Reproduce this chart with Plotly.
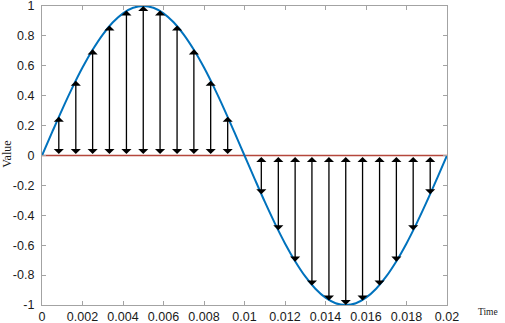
import plotly.graph_objects as go

# continuous sine curve (50 Hz, one period)
curve_t = [0, 0.0005, 0.001, 0.0015, 0.002, 0.0025, 0.003, 0.0035, 0.004, 0.0045,
           0.005, 0.0055, 0.006, 0.0065, 0.007, 0.0075, 0.008, 0.0085, 0.009, 0.0095,
           0.01, 0.0105, 0.011, 0.0115, 0.012, 0.0125, 0.013, 0.0135, 0.014, 0.0145,
           0.015, 0.0155, 0.016, 0.0165, 0.017, 0.0175, 0.018, 0.0185, 0.019, 0.0195, 0.02]
curve_v = [0, 0.156, 0.309, 0.454, 0.588, 0.707, 0.809, 0.891, 0.951, 0.988,
           1.0, 0.988, 0.951, 0.891, 0.809, 0.707, 0.588, 0.454, 0.309, 0.156,
           0, -0.156, -0.309, -0.454, -0.588, -0.707, -0.809, -0.891, -0.951, -0.988,
           -1.0, -0.988, -0.951, -0.891, -0.809, -0.707, -0.588, -0.454, -0.309, -0.156, 0]

# sampled values drawn as double-headed arrows
sample_t = [0.00083, 0.00167, 0.0025, 0.00333, 0.00417, 0.005, 0.00583, 0.00667,
            0.0075, 0.00833, 0.00917,
            0.01083, 0.01167, 0.0125, 0.01333, 0.01417, 0.015, 0.01583, 0.01667,
            0.0175, 0.01833, 0.01917]
sample_v = [0.26, 0.5, 0.71, 0.87, 0.97, 1.0, 0.97, 0.87, 0.71, 0.5, 0.26,
            -0.26, -0.5, -0.71, -0.87, -0.97, -1.0, -0.97, -0.87, -0.71, -0.5, -0.26]

baseline_t = [0, 0.02]
baseline_v = [0, 0]

x_ticks = [0, 0.002, 0.004, 0.006, 0.008, 0.01, 0.012, 0.014, 0.016, 0.018, 0.02]
x_labels = ["0", "0.002", "0.004", "0.006", "0.008", "0.01", "0.012", "0.014",
            "0.016", "0.018", "0.02"]
y_ticks = [1, 0.8, 0.6, 0.4, 0.2, 0, -0.2, -0.4, -0.6, -0.8, -1]
y_labels = ["1", "0.8", "0.6", "0.4", "0.2", "0", "-0.2", "-0.4", "-0.6", "-0.8", "-1"]

AXIS_GRAY = "#a3a3a3"
TICK_FONT = dict(family="Liberation Sans, Arial, sans-serif", size=12.5, color="#1a1a1a")
SERIF = "Liberation Serif, Times New Roman, serif"

fig = go.Figure()
fig.add_trace(go.Scatter(x=baseline_t, y=baseline_v, mode="lines",
                         line=dict(color="#b5473c", width=1.5), hoverinfo="skip"))
fig.add_trace(go.Scatter(x=curve_t, y=curve_v, mode="lines", line_shape="spline",
                         line=dict(color="#0072bd", width=2)))

for t, v in zip(sample_t, sample_v):
    fig.add_annotation(x=t, y=v, ax=t, ay=0, xref="x", yref="y", axref="x", ayref="y",
                       text="", showarrow=True, arrowhead=1, arrowside="end+start",
                       arrowsize=1.3, arrowwidth=1.3, arrowcolor="black")

fig.add_annotation(text="Time", xref="paper", yref="paper", x=1.101, y=-0.025,
                   xanchor="center", yanchor="middle", showarrow=False,
                   font=dict(family=SERIF, size=9.5, color="#1a1a1a"))
fig.add_annotation(text="Value", xref="paper", yref="paper", x=-0.087, y=0.505,
                   xanchor="center", yanchor="middle", textangle=-90, showarrow=False,
                   font=dict(family=SERIF, size=12, color="#1a1a1a"))

fig.update_layout(
    width=505, height=323,
    margin=dict(l=42, r=58, t=6, b=18),
    plot_bgcolor="white", paper_bgcolor="white",
    showlegend=False,
)
fig.update_xaxes(range=[0, 0.02], tickvals=x_ticks, ticktext=x_labels, automargin=False,
                 ticklabeloverflow="allow",
                 showgrid=False, zeroline=False, showline=True, mirror="ticks",
                 linecolor=AXIS_GRAY, linewidth=1.2, ticks="inside", ticklen=4,
                 tickcolor=AXIS_GRAY, tickfont=TICK_FONT)
fig.update_yaxes(range=[-1, 1], tickvals=y_ticks, ticktext=y_labels, automargin=False,
                 ticklabeloverflow="allow",
                 showgrid=False, zeroline=False, showline=True, mirror="ticks",
                 linecolor=AXIS_GRAY, linewidth=1.2, ticks="inside", ticklen=4,
                 tickcolor=AXIS_GRAY, tickfont=TICK_FONT, ticklabelstandoff=4)

# drop the browser's default 8px page margin so the figure fills the window
fig.write_html("out.html", config={"displayModeBar": False},
               post_script="document.body.style.margin='0';")
